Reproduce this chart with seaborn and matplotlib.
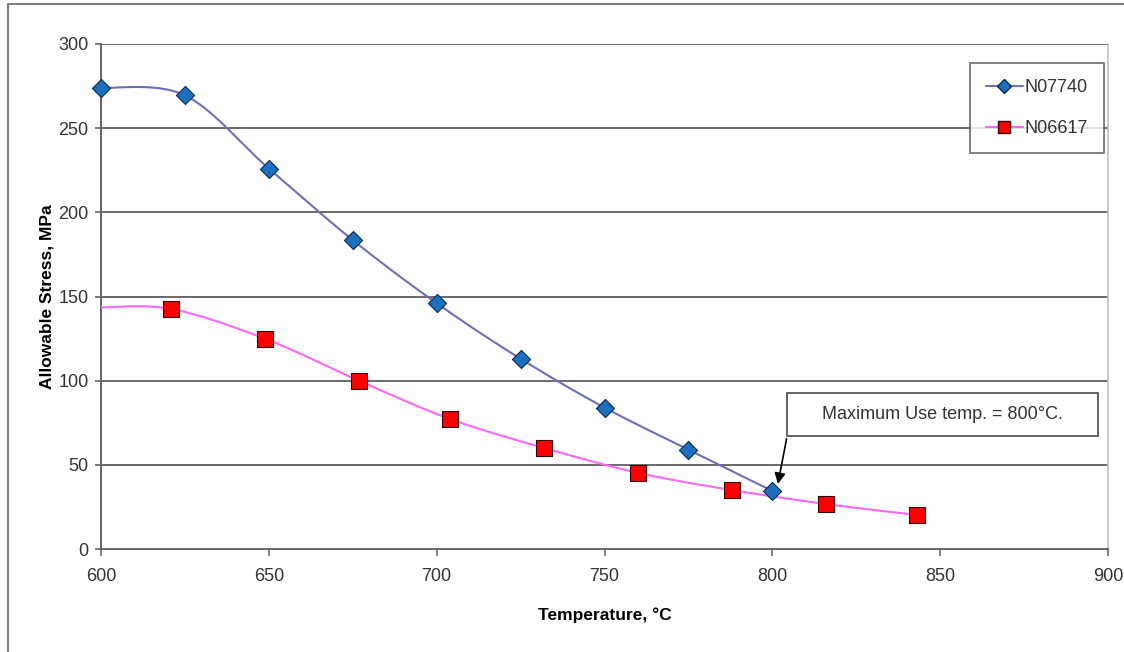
import numpy as np
import pandas as pd
import matplotlib
matplotlib.use("Agg")
import matplotlib.pyplot as plt
import seaborn as sns
from matplotlib.lines import Line2D
from matplotlib.patches import Rectangle

# ---- data ----
temp_740 = [600, 625, 650, 675, 700, 725, 750, 775, 800]
stress_740 = [274, 269.5, 226, 183.5, 146, 113, 84, 59, 34.5]

temp_617 = [621, 649, 677, 704, 732, 760, 788, 816, 843]
stress_617 = [142.6, 124.8, 99.8, 77.2, 60, 45.2, 35, 26.7, 20.2]
# curve start at axis edge (no marker shown)
line_start_617 = (600, 143.5)

x_ticks = [600, 650, 700, 750, 800, 850, 900]
y_ticks = [0, 50, 100, 150, 200, 250, 300]


def smooth(xs, ys, n=40):
    """Catmull-Rom style smoothing (as in spreadsheet 'smoothed line')."""
    P = np.column_stack([xs, ys]).astype(float)
    P = np.vstack([P[0], P, P[-1]])
    out = []
    t = np.linspace(0, 1, n)[:, None]
    for i in range(1, len(P) - 2):
        p0, p1, p2, p3 = P[i - 1], P[i], P[i + 1], P[i + 2]
        c1 = p1 + (p2 - p0) / 6.0
        c2 = p2 - (p3 - p1) / 6.0
        seg = ((1 - t) ** 3) * p1 + 3 * ((1 - t) ** 2) * t * c1 + 3 * (1 - t) * t ** 2 * c2 + t ** 3 * p2
        out.append(seg if i == 1 else seg[1:])
    s = np.vstack(out)
    return s[:, 0], s[:, 1]


sns.set_theme(style="white")
plt.rcParams["font.family"] = ["Liberation Sans", "DejaVu Sans"]

fig = plt.figure(figsize=(11.24, 6.52), dpi=100)
ax = fig.add_axes([101 / 1124, 1 - 549 / 652, 1007 / 1124, 505 / 652])

blue_line = "#6E6EB8"
blue_mark = "#1A6FBF"
pink_line = "#FF66FF"
red_mark = "#FF0000"

# smoothed lines
sx, sy = smooth(temp_740, stress_740)
sns.lineplot(x=sx, y=sy, ax=ax, color=blue_line, lw=1.5, sort=False, zorder=3)
px, py = smooth([line_start_617[0]] + temp_617, [line_start_617[1]] + stress_617)
sns.lineplot(x=px, y=py, ax=ax, color=pink_line, lw=1.5, sort=False, zorder=3)

# markers
df740 = pd.DataFrame({"t": temp_740, "s": stress_740})
df617 = pd.DataFrame({"t": temp_617, "s": stress_617})
sns.scatterplot(data=df617, x="t", y="s", ax=ax, marker="s", s=120, color=red_mark,
                edgecolor="#3a0000", linewidth=0.8, zorder=4, clip_on=False)
sns.scatterplot(data=df740, x="t", y="s", ax=ax, marker="D", s=85, color=blue_mark,
                edgecolor="#0a2a50", linewidth=0.8, zorder=5, clip_on=False)

ax.set_xlim(600, 900)
ax.set_ylim(0, 300)
ax.set_xticks(x_ticks)
ax.set_yticks(y_ticks)
ax.set_xticklabels([str(v) for v in x_ticks], fontsize=13, color="#333333")
ax.set_yticklabels([str(v) for v in y_ticks], fontsize=13, color="#333333")
ax.tick_params(axis="x", direction="out", length=5, width=1.2, color="#666666",
               bottom=True, pad=9)
ax.tick_params(axis="y", direction="out", length=4, width=1.2, color="#666666",
               left=True, pad=5)

# grid lines
for yv in y_ticks[1:]:
    ax.axhline(yv, color="#6a6a6a", lw=1.4, zorder=1)

for side in ["left", "bottom"]:
    ax.spines[side].set_color("#666666")
    ax.spines[side].set_linewidth(1.4)
ax.spines["top"].set_visible(False)
ax.spines["right"].set_color("#c0c0c0")
ax.spines["right"].set_linewidth(1.2)

ax.set_xlabel("Temperature, °C", fontsize=12.5, fontweight="bold", labelpad=16, color="black")
ax.set_ylabel("Allowable Stress, MPa", fontsize=12.5, fontweight="bold", labelpad=3, color="black")

# legend
handles = [
    Line2D([0], [0], color=blue_line, lw=1.5, marker="D", markersize=7.5,
           markerfacecolor=blue_mark, markeredgecolor="#0a2a50"),
    Line2D([0], [0], color=pink_line, lw=1.5, marker="s", markersize=9,
           markerfacecolor=red_mark, markeredgecolor="#3a0000"),
]
leg = ax.legend(handles, ["N07740", "N06617"], loc="upper right",
                bbox_to_anchor=(0.996, 0.962), fontsize=13, frameon=True,
                fancybox=False, edgecolor="#555555", labelspacing=1.3,
                handlelength=2.0, handletextpad=0.1, borderpad=0.9, borderaxespad=0)
leg.get_frame().set_linewidth(1.3)
leg.set_zorder(10)
for t in leg.get_texts():
    t.set_color("#333333")

# annotation box + arrow
ax.add_patch(Rectangle((804.4, 67.1), 92.6, 25.6, facecolor="white", edgecolor="#555555",
                       lw=1.3, zorder=6))
ax.text(850.7, 80, "Maximum Use temp. = 800°C.", ha="center", va="center",
        fontsize=13, color="#333333", zorder=7)
ax.annotate("", xy=(801.5, 37), xytext=(804.4, 67.1),
            arrowprops=dict(arrowstyle="-|>", color="black", lw=1.2, mutation_scale=16),
            zorder=7)

# outer frame (left and top visible)
fig.add_artist(Line2D([8 / 1124, 8 / 1124], [0, 1 - 4 / 652], transform=fig.transFigure,
                      color="#808080", lw=1.5))
fig.add_artist(Line2D([8 / 1124, 1], [1 - 4 / 652, 1 - 4 / 652], transform=fig.transFigure,
                      color="#808080", lw=1.5))

fig.savefig("out.png", dpi=100)
